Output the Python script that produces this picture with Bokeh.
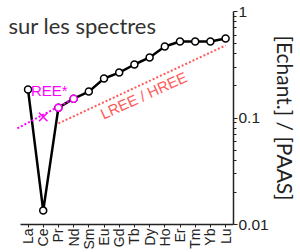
from bokeh.plotting import figure
from bokeh.models import FixedTicker, Label, Range1d
from bokeh.embed import file_html
from bokeh.resources import INLINE

# ---- data ----
elements = ["La", "Ce", "Pr", "Nd", "Sm", "Eu", "Gd", "Tb", "Dy", "Ho", "Er", "Tm", "Yb", "Lu"]
ratios = [0.185, 0.0135, 0.125, 0.152, 0.177, 0.235, 0.267, 0.318, 0.370, 0.469, 0.523, 0.523, 0.523, 0.557]
pos = list(range(len(elements)))          # category index of each element

# REE* extrapolation (Pr-Nd trend extended back to La)
ree_star_x = [-0.7, 3]
ree_star_y = [0.080, 0.152]
ce_star_x = [1]
ce_star_y = [0.102]
interp_x = [2, 3]
interp_y = [0.125, 0.152]

# LREE / HREE trend
lh_x = [2, 13]
lh_y = [0.089, 0.48]

x_start, x_end = -1.285, 13.52
x_axis_start = -0.5
y_min, y_max = 0.01, 1.0
y_major = [0.01, 0.1, 1.0]
y_major_labels = ["0.01", "0.1", "1"]
y_minor = [0.02, 0.03, 0.04, 0.05, 0.06, 0.07, 0.08, 0.09,
           0.2, 0.3, 0.4, 0.5, 0.6, 0.7, 0.8, 0.9]
y_title = "[Echant.] / [PAAS]"
title_text = "sur les spectres"

MAGENTA = "#ff00ff"
RED = "#ff5a5a"
DARK = "#222222"

p = figure(width=300, height=252, x_range=Range1d(x_start, x_end), y_axis_type="log",
           y_range=Range1d(y_min, y_max), y_axis_location="right",
           output_backend="svg", toolbar_location=None,
           min_border_left=8, min_border_top=11, min_border_bottom=27, min_border_right=65)
p.xgrid.visible = False
p.ygrid.visible = False
p.outline_line_color = None
p.background_fill_color = "white"
p.border_fill_color = "white"

# x axis
xa = p.xaxis[0]
xa.ticker = FixedTicker(ticks=pos, minor_ticks=[])
xa.major_label_overrides = {i: e for i, e in zip(pos, elements)}
xa.bounds = (x_axis_start, x_end)
xa.major_label_orientation = 3.14159265 / 2
xa.major_tick_in = 0
xa.major_tick_out = 3
xa.minor_tick_out = 0
xa.minor_tick_in = 0
xa.major_label_standoff = 1
xa.major_label_text_font = "Liberation Sans"
xa.major_label_text_font_size = "14px"
xa.major_label_text_color = DARK
xa.axis_line_color = DARK
xa.major_tick_line_color = DARK
xa.axis_line_width = 1.5

# y axis
ya = p.yaxis[0]
ya.ticker = FixedTicker(ticks=y_major, minor_ticks=y_minor)
ya.major_label_overrides = {t: s for t, s in zip(y_major, y_major_labels)}
ya.major_tick_in = 0
ya.major_tick_out = 4
ya.minor_tick_in = 0
ya.minor_tick_out = 3
ya.major_label_standoff = 1
ya.major_label_text_font = "Liberation Sans"
ya.major_label_text_font_size = "15.5px"
ya.major_label_text_color = DARK
ya.axis_line_color = DARK
ya.axis_line_width = 1.5
ya.major_tick_line_color = DARK
ya.minor_tick_line_color = DARK
ya.axis_label = y_title
ya.axis_label_text_font = "Lato"
ya.axis_label_text_font_style = "normal"
ya.axis_label_text_font_size = "21px"
ya.axis_label_text_color = DARK
ya.axis_label_standoff = 1

# LREE / HREE line
p.line(lh_x, lh_y, line_color=RED, line_width=2, line_dash="2 2")
# spectrum
p.line(pos, ratios, line_color="black", line_width=2.5)
# REE* extrapolation
p.line(ree_star_x, ree_star_y, line_color=MAGENTA, line_width=2, line_dash="2 2")
p.scatter(pos, ratios, size=7, marker="circle", fill_color="white",
          line_color="black", line_width=1.5)
p.scatter(interp_x, interp_y, size=7, marker="circle", fill_color="white",
          line_color=MAGENTA, line_width=1.5)
p.scatter(ce_star_x, ce_star_y, size=12, marker="x", line_color=MAGENTA, line_width=1.5)

p.add_layout(Label(x=0, y=0.18, text="REE*", x_offset=3, text_baseline="middle",
                   text_align="left", text_color=MAGENTA, text_font="Liberation Sans",
                   text_font_size="15px"))
p.add_layout(Label(x=7.6, y=0.163, text="LREE / HREE", text_baseline="middle",
                   text_align="center", angle=24.6, angle_units="deg", text_color=RED,
                   text_font="Liberation Sans", text_font_size="15px"))
p.add_layout(Label(x=x_start, y=0.74, text=title_text, text_baseline="alphabetic",
                   text_align="left", text_color="#333333", text_font="Lato",
                   text_font_size="22px"))

open("out.html", "w").write(file_html(p, INLINE))
